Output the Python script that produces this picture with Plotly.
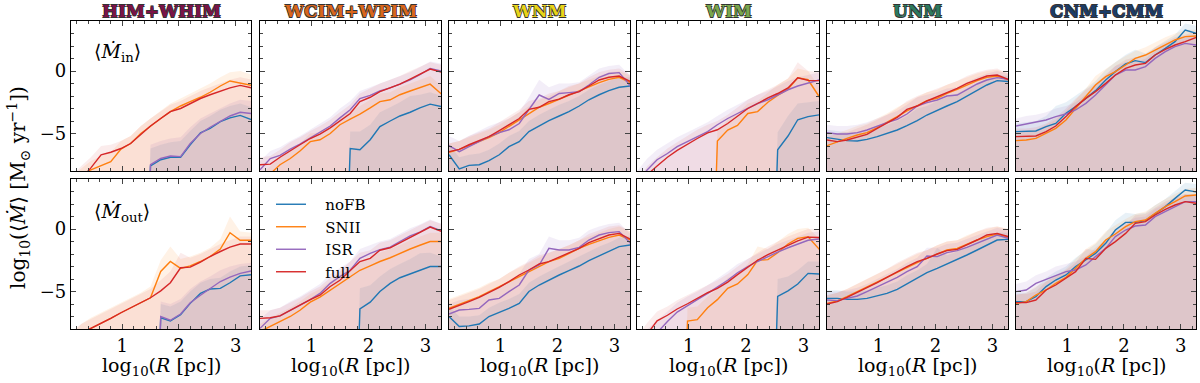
import plotly.graph_objects as go

OFF = -30     # run has no gas yet at this radius -> line comes up from below the axis
FLOOR = -9    # bands are filled down to here (below the y range)

R_PC = [0.10, 0.28, 0.45, 0.63, 0.80, 0.98, 1.15, 1.33, 1.50, 1.68,
        1.85, 2.03, 2.20, 2.38, 2.55, 2.73, 2.90, 3.08, 3.28]

PHASES = ["HIM+WHIM", "WCIM+WPIM", "WNM", "WIM", "UNM", "CNM+CMM"]
PHASE_COLORS = ["#7b1248", "#d9661c", "#e9d417", "#79a64c", "#2c7a5e", "#1b3c68"]
RUNS = ["noFB", "SNII", "ISR", "full"]
RUN_COLORS = ["#1f77b4", "#ff7f0e", "#9467bd", "#d62728"]
RUN_FILLS = ["rgba(31,119,180,0.10)", "rgba(255,127,14,0.10)",
             "rgba(148,103,189,0.11)", "rgba(214,39,40,0.09)"]

# ---- HIM+WHIM
HIM_IN_NOFB = [OFF, OFF, OFF, OFF, OFF, OFF, OFF, OFF, -7.6, -7.1, -6.9, -6.9, -5.9, -4.95, -4.6, -4.05, -3.75, -3.55, -3.9]
HIM_IN_SNII = [OFF, -8.4, -7.9, -7.55, -7.25, -6.25, -5.8, -5.0, -4.4, -3.8, -3.25, -2.8, -2.45, -2.1, -1.7, -1.2, -0.8, -0.95, -1.15]
HIM_IN_ISR = [OFF, OFF, OFF, OFF, OFF, OFF, OFF, OFF, -7.5, -7.0, -6.8, -6.85, -5.8, -5.0, -4.5, -4.05, -3.6, -3.3, -3.4]
HIM_IN_FULL = [OFF, -8.6, -7.75, -6.7, -6.5, -6.2, -5.8, -5.05, -4.4, -3.8, -3.25, -3.0, -2.6, -2.2, -1.9, -1.6, -1.35, -1.15, -1.35]
HIM_IN_NOFB_HI = [OFF, OFF, OFF, OFF, OFF, OFF, OFF, OFF, -6.2, -5.9, -5.7, -5.6, -4.8, -4.0, -3.6, -3.1, -2.8, -2.6, -2.9]
HIM_IN_SNII_HI = [-8.6, -7.8, -7.2, -6.8, -6.5, -5.6, -5.2, -4.4, -3.8, -3.2, -2.6, -2.2, -1.8, -1.4, -1.0, -0.5, -0.1, 0.0, -0.3]
HIM_IN_ISR_HI = [OFF, OFF, OFF, OFF, OFF, OFF, OFF, OFF, -5.9, -5.6, -5.4, -5.3, -4.5, -3.8, -3.4, -3.0, -2.6, -2.3, -2.4]
HIM_IN_FULL_HI = [-8.5, -7.6, -6.9, -6.0, -5.9, -5.6, -5.2, -4.4, -3.8, -3.2, -2.7, -2.4, -2.0, -1.6, -1.3, -1.0, -0.7, -0.5, -0.7]

HIM_OUT_NOFB = [OFF, OFF, OFF, OFF, OFF, OFF, OFF, OFF, OFF, -7.1, -7.35, -6.85, -5.95, -5.15, -4.8, -4.75, -4.3, -3.75, -3.65]
HIM_OUT_SNII = [-9.0, -8.35, -7.95, -7.55, -7.15, -6.7, -6.3, -5.9, -5.5, -3.4, -2.6, -3.15, -2.95, -2.6, -2.2, -1.6, -0.3, -0.9, -0.9]
HIM_OUT_ISR = [OFF, OFF, OFF, OFF, OFF, OFF, OFF, OFF, OFF, -7.0, -7.3, -6.8, -5.9, -5.3, -4.8, -4.2, -3.85, -3.55, -3.35]
HIM_OUT_FULL = [-9.0, -8.35, -7.95, -7.55, -7.15, -6.7, -6.3, -5.9, -5.5, -4.95, -4.3, -3.1, -3.05, -2.65, -2.2, -1.8, -1.45, -1.2, -1.2]
HIM_OUT_NOFB_HI = [OFF, OFF, OFF, OFF, OFF, OFF, OFF, OFF, OFF, -6.0, -6.2, -5.8, -5.0, -4.3, -4.0, -3.9, -3.4, -3.0, -2.9]
HIM_OUT_SNII_HI = [-8.4, -7.6, -7.1, -6.7, -6.3, -5.9, -5.5, -5.1, -4.6, -2.5, -1.4, -2.4, -2.2, -1.9, -1.5, -0.8, 1.0, -0.2, -0.3]
HIM_OUT_ISR_HI = [OFF, OFF, OFF, OFF, OFF, OFF, OFF, OFF, OFF, -5.8, -6.0, -5.6, -4.8, -4.2, -3.8, -3.3, -3.0, -2.8, -2.7]
HIM_OUT_FULL_HI = [-8.3, -7.6, -7.2, -6.8, -6.4, -6.0, -5.6, -5.2, -4.8, -4.1, -3.4, -1.9, -2.3, -2.0, -1.6, -1.2, -0.9, -0.6, -0.6]

# ---- WCIM+WPIM
WCIM_IN_NOFB = [OFF, OFF, OFF, OFF, OFF, OFF, OFF, OFF, OFF, -6.2, -6.3, -5.5, -4.45, -4.0, -3.6, -3.3, -2.95, -2.65, -2.85]
WCIM_IN_SNII = [-9.0, -8.2, -7.5, -7.0, -6.4, -5.65, -5.5, -5.0, -4.3, -3.85, -3.45, -2.95, -2.45, -2.3, -1.9, -1.6, -1.35, -1.05, -1.85]
WCIM_IN_ISR = [-7.9, -7.0, -6.75, -6.25, -5.85, -5.35, -4.85, -4.4, -3.75, -3.1, -2.2, -1.95, -1.6, -1.35, -1.05, -0.7, -0.3, 0.2, 0.0]
WCIM_IN_FULL = [-7.5, -7.45, -6.9, -6.35, -5.9, -5.4, -5.05, -4.55, -4.0, -3.4, -2.45, -2.1, -1.65, -1.35, -1.05, -0.65, -0.25, 0.15, -0.1]
WCIM_IN_NOFB_HI = [OFF, OFF, OFF, OFF, OFF, OFF, OFF, OFF, OFF, -4.85, -4.85, -4.3, -3.3, -2.9, -2.5, -2.0, -1.9, -1.7, -2.0]
WCIM_IN_SNII_HI = [-8.4, -7.6, -6.9, -6.4, -5.8, -5.0, -4.9, -4.4, -3.7, -3.2, -2.8, -2.3, -1.8, -1.7, -1.3, -1.0, -0.7, -0.4, -1.2]
WCIM_IN_ISR_HI = [-7.2, -6.4, -6.1, -5.6, -5.2, -4.7, -4.2, -3.7, -3.0, -2.4, -1.6, -1.3, -1.0, -0.7, -0.4, -0.1, 0.3, 0.75, 0.6]
WCIM_IN_FULL_HI = [-6.9, -6.8, -6.3, -5.7, -5.3, -4.8, -4.4, -3.9, -3.3, -2.7, -1.8, -1.4, -1.0, -0.7, -0.4, 0.0, 0.35, 0.7, 0.5]

WCIM_OUT_NOFB = [OFF, OFF, OFF, OFF, OFF, OFF, OFF, OFF, OFF, OFF, -6.4, -5.85, -5.0, -4.35, -3.9, -3.6, -3.3, -3.0, -3.0]
WCIM_OUT_SNII = [-8.2, -7.8, -7.4, -7.0, -6.5, -5.85, -5.45, -4.9, -4.35, -3.8, -3.3, -2.95, -2.6, -2.3, -1.95, -1.6, -1.3, -1.0, -1.0]
WCIM_OUT_ISR = [-7.95, -7.15, -6.95, -6.5, -6.1, -5.65, -5.15, -4.35, -3.8, -3.3, -2.35, -1.95, -1.65, -1.45, -1.0, -0.55, -0.25, 0.2, -0.15]
WCIM_OUT_FULL = [-7.15, -7.1, -6.95, -6.5, -6.1, -5.65, -5.3, -4.6, -4.1, -3.3, -2.6, -2.35, -1.7, -1.5, -1.1, -0.65, -0.3, 0.15, -0.2]
WCIM_OUT_NOFB_HI = [OFF, OFF, OFF, OFF, OFF, OFF, OFF, OFF, OFF, OFF, -4.75, -4.5, -3.8, -3.2, -2.8, -2.4, -1.95, -1.9, -2.2]
WCIM_OUT_SNII_HI = [-7.6, -7.1, -6.7, -6.3, -5.8, -5.2, -4.8, -4.2, -3.7, -3.1, -2.6, -2.3, -1.9, -1.6, -1.3, -0.9, -0.6, -0.3, -0.3]
WCIM_OUT_ISR_HI = [-7.2, -6.5, -6.3, -5.8, -5.4, -4.9, -4.4, -3.6, -3.1, -2.6, -1.6, -1.3, -1.0, -0.8, -0.4, 0.05, 0.35, 0.75, 0.4]
WCIM_OUT_FULL_HI = [-6.5, -6.5, -6.3, -5.9, -5.5, -5.0, -4.6, -3.9, -3.4, -2.6, -1.9, -1.7, -1.1, -0.9, -0.5, -0.05, 0.3, 0.7, 0.4]

# ---- WNM
WNM_IN_NOFB = [-6.7, -7.84, -7.55, -7.5, -7.17, -6.7, -6.05, -5.65, -4.85, -4.4, -3.97, -3.6, -3.25, -2.8, -2.3, -1.9, -1.57, -1.3, -1.2]
WNM_IN_SNII = [-6.5, -6.27, -5.97, -5.65, -5.33, -4.93, -4.45, -3.92, -3.4, -2.9, -2.6, -2.25, -1.9, -1.57, -1.25, -0.93, -0.67, -0.5, -0.93]
WNM_IN_ISR = [-5.97, -6.45, -6.05, -5.65, -5.25, -4.93, -4.7, -4.2, -3.12, -1.92, -2.27, -1.8, -1.73, -1.65, -1.12, -0.5, -0.2, -0.13, -1.2]
WNM_IN_FULL = [-6.45, -6.27, -5.9, -5.57, -5.25, -4.77, -4.3, -3.8, -3.07, -2.9, -2.45, -2.25, -1.9, -1.65, -1.2, -0.72, -0.5, -0.4, -0.85]
WNM_IN_NOFB_HI = [-5.9, -6.9, -6.7, -6.6, -6.3, -5.8, -5.2, -4.8, -4.0, -3.5, -3.1, -2.7, -2.4, -2.0, -1.5, -1.1, -0.8, -0.5, -0.5]
WNM_IN_SNII_HI = [-5.8, -5.6, -5.3, -5.0, -4.7, -4.3, -3.8, -3.3, -2.8, -2.3, -2.0, -1.6, -1.3, -1.0, -0.7, -0.4, -0.1, 0.0, -0.4]
WNM_IN_ISR_HI = [-5.2, -5.6, -5.2, -4.8, -4.4, -4.1, -3.8, -3.3, -2.1, -0.7, -1.3, -1.0, -1.0, -0.9, -0.4, 0.2, 0.4, 0.5, -0.4]
WNM_IN_FULL_HI = [-5.8, -5.6, -5.2, -4.9, -4.6, -4.1, -3.6, -3.1, -2.4, -2.2, -1.8, -1.6, -1.2, -1.0, -0.5, -0.1, 0.1, 0.2, -0.3]

WNM_OUT_NOFB = [-7.0, -7.8, -7.75, -7.6, -7.0, -6.67, -6.35, -5.95, -5.0, -4.48, -4.08, -3.68, -3.33, -2.96, -2.53, -2.16, -1.81, -1.41, -1.28]
WNM_OUT_SNII = [-6.35, -6.0, -5.73, -5.41, -5.04, -4.67, -4.24, -3.81, -3.41, -3.01, -2.61, -2.35, -1.95, -1.55, -1.23, -0.93, -0.67, -0.48, -0.88]
WNM_OUT_ISR = [-6.8, -6.48, -6.43, -6.35, -5.68, -5.55, -5.01, -4.48, -3.28, -2.88, -1.55, -1.68, -1.68, -1.47, -0.88, -0.48, -0.29, -0.21, -1.15]
WNM_OUT_FULL = [-6.43, -6.08, -5.81, -5.47, -5.09, -4.67, -4.21, -3.68, -3.28, -2.8, -2.61, -2.27, -1.95, -1.55, -1.09, -0.75, -0.48, -0.35, -0.83]
WNM_OUT_NOFB_HI = [-6.2, -7.0, -7.0, -6.9, -6.3, -5.9, -5.6, -5.2, -4.3, -3.8, -3.4, -3.0, -2.6, -2.2, -1.8, -1.4, -1.1, -0.7, -0.6]
WNM_OUT_SNII_HI = [-5.6, -5.3, -5.0, -4.7, -4.3, -4.0, -3.5, -3.1, -2.7, -2.3, -1.9, -1.6, -1.3, -0.9, -0.6, -0.3, 0.0, 0.2, -0.2]
WNM_OUT_ISR_HI = [-6.0, -5.7, -5.6, -5.5, -4.9, -4.7, -4.2, -3.6, -2.4, -2.0, -0.6, -0.9, -0.9, -0.7, -0.1, 0.2, 0.4, 0.5, -0.4]
WNM_OUT_FULL_HI = [-5.7, -5.4, -5.1, -4.8, -4.4, -4.0, -3.5, -3.0, -2.6, -2.1, -1.9, -1.6, -1.3, -0.9, -0.4, -0.1, 0.2, 0.3, -0.2]

# ---- WIM
WIM_IN_NOFB = [OFF, OFF, OFF, OFF, OFF, OFF, OFF, OFF, OFF, OFF, OFF, OFF, OFF, OFF, -6.3, -5.2, -3.9, -3.65, -3.5]
WIM_IN_SNII = [OFF, OFF, OFF, OFF, OFF, OFF, OFF, OFF, -5.6, -4.72, -4.35, -3.4, -3.25, -2.5, -1.95, -1.45, -0.55, -0.7, -2.1]
WIM_IN_ISR = [-8.9, -7.9, -7.1, -6.6, -6.05, -5.65, -5.25, -4.85, -4.3, -3.8, -3.4, -3.0, -2.6, -2.3, -1.9, -1.5, -1.2, -0.95, -0.7]
WIM_IN_FULL = [-9.5, -8.3, -7.6, -6.9, -6.35, -5.85, -5.4, -4.95, -4.7, -4.2, -3.6, -3.0, -2.6, -2.15, -1.8, -1.35, -0.55, -0.75, -0.77]
WIM_IN_NOFB_HI = [OFF, OFF, OFF, OFF, OFF, OFF, OFF, OFF, OFF, OFF, OFF, OFF, OFF, OFF, -4.9, -3.6, -2.6, -2.5, -2.4]
WIM_IN_SNII_HI = [OFF, OFF, OFF, OFF, OFF, OFF, OFF, OFF, -4.8, -3.9, -3.4, -2.6, -2.4, -1.7, -1.1, -0.6, 0.2, 0.0, -1.3]
WIM_IN_ISR_HI = [-8.0, -7.0, -6.3, -5.8, -5.3, -4.9, -4.5, -4.1, -3.6, -3.1, -2.7, -2.3, -1.9, -1.6, -1.2, -0.8, -0.5, -0.3, -0.1]
WIM_IN_FULL_HI = [-8.8, -7.6, -6.9, -6.2, -5.7, -5.2, -4.7, -4.3, -4.0, -3.5, -2.9, -2.3, -1.9, -1.5, -1.1, -0.6, 0.7, 0.0, -0.1]

WIM_OUT_NOFB = [OFF, OFF, OFF, OFF, OFF, OFF, OFF, OFF, OFF, OFF, OFF, OFF, OFF, OFF, -5.4, -4.95, -4.4, -3.55, -3.6]
WIM_OUT_SNII = [OFF, OFF, OFF, OFF, OFF, -7.36, -7.25, -6.3, -5.65, -4.75, -4.4, -3.65, -2.5, -2.45, -1.9, -1.2, -0.75, -0.62, -1.65]
WIM_OUT_ISR = [-10.0, -9.3, -8.3, -7.4, -6.65, -6.1, -5.65, -5.15, -4.65, -4.1, -3.5, -3.0, -2.6, -2.2, -1.85, -1.5, -1.2, -0.9, -0.8]
WIM_OUT_FULL = [-9.5, -8.4, -7.35, -6.9, -6.4, -5.98, -5.55, -5.1, -4.75, -4.25, -3.65, -3.05, -2.5, -2.05, -1.7, -1.3, -0.95, -0.65, -0.68]
WIM_OUT_NOFB_HI = [OFF, OFF, OFF, OFF, OFF, OFF, OFF, OFF, OFF, OFF, OFF, OFF, OFF, OFF, -4.0, -3.8, -3.3, -2.6, -2.6]
WIM_OUT_SNII_HI = [OFF, OFF, OFF, OFF, OFF, -6.3, -6.2, -5.4, -4.8, -3.9, -3.6, -2.8, -1.4, -1.6, -1.0, -0.4, 0.0, 0.1, -0.8]
WIM_OUT_ISR_HI = [-8.8, -8.0, -7.3, -6.6, -5.9, -5.4, -5.0, -4.5, -4.0, -3.4, -2.8, -2.4, -2.0, -1.6, -1.2, -0.9, -0.6, -0.3, -0.2]
WIM_OUT_FULL_HI = [-8.6, -7.5, -6.6, -6.2, -5.7, -5.3, -4.9, -4.5, -4.1, -3.6, -3.0, -2.4, -1.9, -1.4, -1.0, -0.6, -0.3, 0.0, 0.0]

# ---- UNM
UNM_IN_NOFB = [-5.33, -5.47, -5.57, -5.6, -5.47, -5.25, -4.99, -4.72, -4.37, -3.97, -3.52, -3.12, -2.8, -2.45, -2.0, -1.52, -1.12, -0.77, -0.85]
UNM_IN_SNII = [-5.97, -5.65, -5.39, -5.12, -4.93, -4.53, -4.13, -3.65, -3.2, -2.8, -2.37, -2.19, -1.79, -1.47, -1.12, -0.77, -0.51, -0.4, -0.72]
UNM_IN_ISR = [-4.93, -5.04, -5.04, -4.93, -4.72, -4.4, -4.13, -3.87, -3.44, -2.8, -2.53, -2.32, -2.0, -1.92, -1.52, -1.04, -0.72, -0.53, -0.67]
UNM_IN_FULL = [-5.52, -5.65, -5.52, -5.31, -5.07, -4.59, -4.19, -3.71, -3.07, -2.8, -2.4, -2.05, -1.73, -1.39, -0.99, -0.67, -0.4, -0.32, -0.67]
UNM_IN_NOFB_HI = [-4.7, -4.8, -4.9, -4.9, -4.8, -4.6, -4.3, -4.0, -3.6, -3.0, -2.8, -2.4, -2.1, -1.8, -1.4, -1.0, -0.6, -0.3, -0.4]
UNM_IN_SNII_HI = [-5.3, -5.0, -4.7, -4.4, -4.2, -3.8, -3.4, -2.9, -2.5, -2.05, -1.7, -1.5, -1.1, -0.8, -0.5, -0.2, 0.0, 0.1, -0.2]
UNM_IN_ISR_HI = [-4.3, -4.4, -4.4, -4.3, -4.1, -3.8, -3.5, -3.2, -2.7, -2.1, -1.9, -1.7, -1.4, -1.3, -0.9, -0.5, -0.2, 0.0, -0.2]
UNM_IN_FULL_HI = [-4.9, -5.0, -4.9, -4.6, -4.3, -3.9, -3.5, -3.0, -2.4, -2.0, -1.7, -1.4, -1.1, -0.8, -0.4, -0.1, 0.1, 0.2, -0.2]

UNM_OUT_NOFB = [-5.55, -5.55, -5.63, -5.63, -5.55, -5.36, -5.15, -4.83, -4.4, -3.95, -3.49, -3.15, -2.8, -2.48, -2.08, -1.68, -1.28, -0.88, -0.83]
UNM_OUT_SNII = [-5.95, -5.76, -5.41, -5.01, -4.61, -4.21, -3.87, -3.49, -3.07, -2.69, -2.35, -2.0, -1.68, -1.55, -1.2, -0.88, -0.61, -0.4, -0.67]
UNM_OUT_ISR = [-5.68, -5.73, -5.55, -5.36, -5.01, -4.61, -4.29, -3.87, -3.41, -3.01, -2.16, -2.21, -1.89, -1.73, -1.47, -1.15, -0.83, -0.48, -0.75]
UNM_OUT_FULL = [-6.0, -5.81, -5.47, -5.09, -4.67, -4.29, -3.87, -3.41, -3.01, -2.61, -2.35, -2.0, -1.73, -1.63, -1.28, -0.88, -0.48, -0.35, -0.61]
UNM_OUT_NOFB_HI = [-4.9, -4.9, -5.0, -5.0, -4.9, -4.7, -4.5, -4.2, -3.7, -3.3, -2.8, -1.5, -2.1, -1.8, -1.4, -1.0, -0.6, -0.3, -0.3]
UNM_OUT_SNII_HI = [-5.3, -5.1, -4.8, -4.4, -4.0, -3.6, -3.2, -2.8, -2.4, -2.0, -1.7, -1.3, -1.0, -0.9, -0.5, -0.2, 0.0, 0.2, 0.0]
UNM_OUT_ISR_HI = [-5.0, -5.0, -4.9, -4.7, -4.4, -4.0, -3.6, -3.2, -2.7, -2.3, -1.5, -1.5, -1.2, -1.1, -0.8, -0.5, -0.2, 0.1, -0.1]
UNM_OUT_FULL_HI = [-5.3, -5.1, -4.8, -4.4, -4.0, -3.6, -3.2, -2.7, -2.3, -1.9, -1.7, -1.3, -1.0, -0.9, -0.6, -0.2, 0.1, 0.2, 0.0]

# ---- CNM+CMM
CNM_IN_NOFB = [-4.85, -4.8, -4.8, -4.45, -4.19, -3.39, -2.85, -2.19, -1.57, -0.72, -0.05, 0.56, 0.83, 0.67, 1.28, 1.81, 2.35, 3.28, 3.01]
CNM_IN_SNII = [-5.57, -5.52, -5.39, -4.99, -4.59, -3.92, -2.99, -2.05, -1.12, -0.45, -0.05, 0.48, 1.01, 1.28, 1.68, 2.08, 2.48, 2.75, 2.8]
CNM_IN_ISR = [-4.4, -4.24, -4.13, -3.92, -3.65, -3.44, -3.12, -2.59, -1.92, -1.12, -0.32, 0.08, 0.08, 0.35, 1.01, 1.55, 1.95, 2.21, 2.08]
CNM_IN_FULL = [-5.25, -5.25, -5.2, -4.85, -4.4, -3.65, -2.85, -2.19, -1.65, -0.99, -0.32, 0.21, 0.48, 0.61, 1.28, 1.73, 2.08, 2.35, 2.69]
CNM_IN_NOFB_HI = [-4.2, -4.1, -4.0, -3.6, -2.8, -2.5, -2.0, -1.4, -0.8, 0.1, 0.7, 1.3, 1.7, 1.4, 1.9, 2.4, 2.9, 3.8, 3.6]
CNM_IN_SNII_HI = [-4.9, -4.8, -4.7, -4.3, -3.9, -3.2, -2.3, -1.4, -0.4, 0.2, 0.7, 1.2, 1.6, 1.9, 2.3, 2.7, 3.0, 3.3, 3.3]
CNM_IN_ISR_HI = [-3.8, -3.6, -3.5, -3.3, -3.0, -2.8, -2.5, -1.9, -1.2, -0.4, 0.4, 0.7, 0.7, 1.0, 1.6, 2.1, 2.5, 2.8, 2.7]
CNM_IN_FULL_HI = [-4.6, -4.6, -4.5, -4.2, -3.7, -3.0, -2.2, -1.5, -1.0, -0.3, 0.4, 0.9, 1.1, 1.2, 1.9, 2.3, 2.7, 2.9, 3.2]

CNM_OUT_NOFB = [-5.81, -5.81, -5.41, -4.61, -4.08, -3.68, -3.01, -2.48, -1.95, -1.15, -0.08, 0.53, 0.53, 0.67, 1.25, 1.79, 2.45, 3.12, 2.96]
CNM_OUT_SNII = [-5.95, -5.81, -5.28, -4.88, -4.35, -3.87, -3.15, -2.35, -1.81, -0.88, -0.4, 0.19, 0.59, 0.72, 1.25, 1.79, 2.19, 2.64, 2.72]
CNM_OUT_ISR = [-5.01, -4.88, -4.35, -4.03, -3.68, -3.41, -3.28, -2.88, -2.21, -1.55, -0.61, -0.08, 0.24, 0.32, 0.99, 1.39, 1.79, 2.19, 2.19]
CNM_OUT_FULL = [-5.89, -5.89, -5.68, -4.88, -4.48, -3.95, -3.41, -2.35, -2.43, -1.55, -1.01, -0.35, 0.45, 0.59, 1.12, 1.57, 1.92, 2.19, 2.05]
CNM_OUT_NOFB_HI = [-5.1, -5.1, -4.7, -3.9, -3.4, -3.0, -2.3, -1.7, -1.2, -0.3, 0.7, 1.3, 1.2, 1.3, 1.9, 2.4, 3.0, 3.7, 3.6]
CNM_OUT_SNII_HI = [-5.3, -5.1, -4.6, -4.2, -3.7, -3.2, -2.4, -1.6, -1.1, -0.2, 0.3, 0.8, 1.2, 1.4, 1.9, 2.4, 2.8, 3.2, 3.3]
CNM_OUT_ISR_HI = [-4.4, -4.2, -3.7, -3.4, -3.0, -2.8, -2.6, -2.2, -1.5, -0.9, 0.0, 0.5, 0.9, 1.0, 1.6, 2.0, 2.4, 2.8, 2.8]
CNM_OUT_FULL_HI = [-5.2, -5.2, -5.0, -4.2, -3.8, -3.3, -2.7, -1.6, -1.7, -0.8, -0.3, 0.3, 1.1, 1.2, 1.7, 2.2, 2.5, 2.8, 2.7]

# row 0 = inflow, row 1 = outflow; each entry: (lines, upper band edges) in RUNS order
PANELS = [
    [
        ([HIM_IN_NOFB, HIM_IN_SNII, HIM_IN_ISR, HIM_IN_FULL], [HIM_IN_NOFB_HI, HIM_IN_SNII_HI, HIM_IN_ISR_HI, HIM_IN_FULL_HI]),
        ([WCIM_IN_NOFB, WCIM_IN_SNII, WCIM_IN_ISR, WCIM_IN_FULL], [WCIM_IN_NOFB_HI, WCIM_IN_SNII_HI, WCIM_IN_ISR_HI, WCIM_IN_FULL_HI]),
        ([WNM_IN_NOFB, WNM_IN_SNII, WNM_IN_ISR, WNM_IN_FULL], [WNM_IN_NOFB_HI, WNM_IN_SNII_HI, WNM_IN_ISR_HI, WNM_IN_FULL_HI]),
        ([WIM_IN_NOFB, WIM_IN_SNII, WIM_IN_ISR, WIM_IN_FULL], [WIM_IN_NOFB_HI, WIM_IN_SNII_HI, WIM_IN_ISR_HI, WIM_IN_FULL_HI]),
        ([UNM_IN_NOFB, UNM_IN_SNII, UNM_IN_ISR, UNM_IN_FULL], [UNM_IN_NOFB_HI, UNM_IN_SNII_HI, UNM_IN_ISR_HI, UNM_IN_FULL_HI]),
        ([CNM_IN_NOFB, CNM_IN_SNII, CNM_IN_ISR, CNM_IN_FULL], [CNM_IN_NOFB_HI, CNM_IN_SNII_HI, CNM_IN_ISR_HI, CNM_IN_FULL_HI]),
    ],
    [
        ([HIM_OUT_NOFB, HIM_OUT_SNII, HIM_OUT_ISR, HIM_OUT_FULL], [HIM_OUT_NOFB_HI, HIM_OUT_SNII_HI, HIM_OUT_ISR_HI, HIM_OUT_FULL_HI]),
        ([WCIM_OUT_NOFB, WCIM_OUT_SNII, WCIM_OUT_ISR, WCIM_OUT_FULL], [WCIM_OUT_NOFB_HI, WCIM_OUT_SNII_HI, WCIM_OUT_ISR_HI, WCIM_OUT_FULL_HI]),
        ([WNM_OUT_NOFB, WNM_OUT_SNII, WNM_OUT_ISR, WNM_OUT_FULL], [WNM_OUT_NOFB_HI, WNM_OUT_SNII_HI, WNM_OUT_ISR_HI, WNM_OUT_FULL_HI]),
        ([WIM_OUT_NOFB, WIM_OUT_SNII, WIM_OUT_ISR, WIM_OUT_FULL], [WIM_OUT_NOFB_HI, WIM_OUT_SNII_HI, WIM_OUT_ISR_HI, WIM_OUT_FULL_HI]),
        ([UNM_OUT_NOFB, UNM_OUT_SNII, UNM_OUT_ISR, UNM_OUT_FULL], [UNM_OUT_NOFB_HI, UNM_OUT_SNII_HI, UNM_OUT_ISR_HI, UNM_OUT_FULL_HI]),
        ([CNM_OUT_NOFB, CNM_OUT_SNII, CNM_OUT_ISR, CNM_OUT_FULL], [CNM_OUT_NOFB_HI, CNM_OUT_SNII_HI, CNM_OUT_ISR_HI, CNM_OUT_FULL_HI]),
    ],
]

W, H = 1200, 383
COL_PX = [(71, 251), (260, 441), (449, 630), (637, 819), (827, 1008), (1016, 1196)]
ROW_PX = [(21, 171), (179, 329)]
FONT = "DejaVu Serif"

fig = go.Figure()
layout = {}

for r in range(2):
    for c in range(6):
        k = r * 6 + c + 1
        sfx = "" if k == 1 else str(k)
        xa, ya = "x" + sfx, "y" + sfx
        lines, his = PANELS[r][c]

        # shaded spread, filled down below the axis
        for i in range(4):
            fig.add_trace(go.Scatter(
                x=R_PC + R_PC[::-1], y=his[i] + [FLOOR] * len(R_PC),
                fill="toself", fillcolor=RUN_FILLS[i], line=dict(width=0),
                mode="lines", hoverinfo="skip", showlegend=False,
                xaxis=xa, yaxis=ya))
        for i in range(4):
            fig.add_trace(go.Scatter(
                x=R_PC, y=lines[i], mode="lines",
                name="\u00a0\u00a0\u00a0" + RUNS[i],
                line=dict(color=RUN_COLORS[i], width=1.4),
                showlegend=(r == 1 and c == 1), xaxis=xa, yaxis=ya))

        x0, x1 = COL_PX[c]
        y0, y1 = ROW_PX[r]
        layout["xaxis" + sfx] = dict(
            domain=[x0 / W, x1 / W], anchor=ya, range=[0.1, 3.27],
            tickmode="linear", tick0=0, dtick=1, ticks="inside", ticklen=5,
            minor=dict(tick0=0, dtick=0.2, ticks="inside", ticklen=3),
            mirror="allticks", showline=True, linecolor="black", linewidth=1.2,
            showgrid=False, zeroline=False, showticklabels=(r == 1),
            tickfont=dict(size=18, color="black"))
        layout["yaxis" + sfx] = dict(
            domain=[1 - y1 / H, 1 - y0 / H], anchor=xa, range=[-8, 4],
            tickmode="linear", tick0=0, dtick=5, ticks="inside", ticklen=5,
            minor=dict(tick0=0, dtick=1, ticks="inside", ticklen=3),
            mirror="allticks", showline=True, linecolor="black", linewidth=1.2,
            showgrid=False, zeroline=False, showticklabels=(c == 0),
            tickfont=dict(size=18, color="black"))

annotations = []
outline = "-0.6px -0.6px 0 #333, 0.6px -0.6px 0 #333, -0.6px 0.6px 0 #333, 0.6px 0.6px 0 #333"
for c, (name, col) in enumerate(zip(PHASES, PHASE_COLORS)):
    xc = (COL_PX[c][0] + COL_PX[c][1]) / 2 / W
    annotations.append(dict(
        text="<b>%s</b>" % name, x=xc, y=1 - 11 / H, xref="paper", yref="paper",
        xanchor="center", yanchor="middle", showarrow=False,
        font=dict(size=17, color=col, family=FONT, shadow=outline)))
    annotations.append(dict(
        text="log<sub>10</sub>(<i>R</i> [pc])", x=xc, y=1 - 366 / H,
        xref="paper", yref="paper", xanchor="center", yanchor="middle",
        showarrow=False, font=dict(size=19, color="black", family=FONT)))

annotations.append(dict(
    text="⟨<i>M\u0307</i><sub>in</sub>⟩", x=117 / W, y=1 - 52 / H,
    xref="paper", yref="paper", xanchor="center", yanchor="middle",
    showarrow=False, font=dict(size=19, color="black", family=FONT)))
annotations.append(dict(
    text="⟨<i>M\u0307</i><sub>out</sub>⟩", x=122 / W, y=1 - 212 / H,
    xref="paper", yref="paper", xanchor="center", yanchor="middle",
    showarrow=False, font=dict(size=19, color="black", family=FONT)))
annotations.append(dict(
    text="log<sub>10</sub>(⟨<i>M\u0307</i>⟩ [M<sub>⊙</sub> yr<sup>−1</sup>])",
    x=18 / W, y=1 - 188 / H, xref="paper", yref="paper", textangle=-90,
    xanchor="center", yanchor="middle",
    showarrow=False, font=dict(size=20, color="black", family=FONT)))

fig.update_layout(
    width=W, height=H, margin=dict(l=0, r=0, t=0, b=0),
    paper_bgcolor="white", plot_bgcolor="white",
    font=dict(family=FONT, color="black"),
    annotations=annotations,
    legend=dict(x=271 / W, y=1 - 188 / H, xanchor="left", yanchor="top",
                bgcolor="rgba(0,0,0,0)", font=dict(size=15, family=FONT),
                tracegroupgap=0),
    **layout)

# drop the page's default body margin so the figure sits at the window corner
fig.write_html("out.html", config={"displayModeBar": False},
               post_script="document.body.style.margin='0';")
